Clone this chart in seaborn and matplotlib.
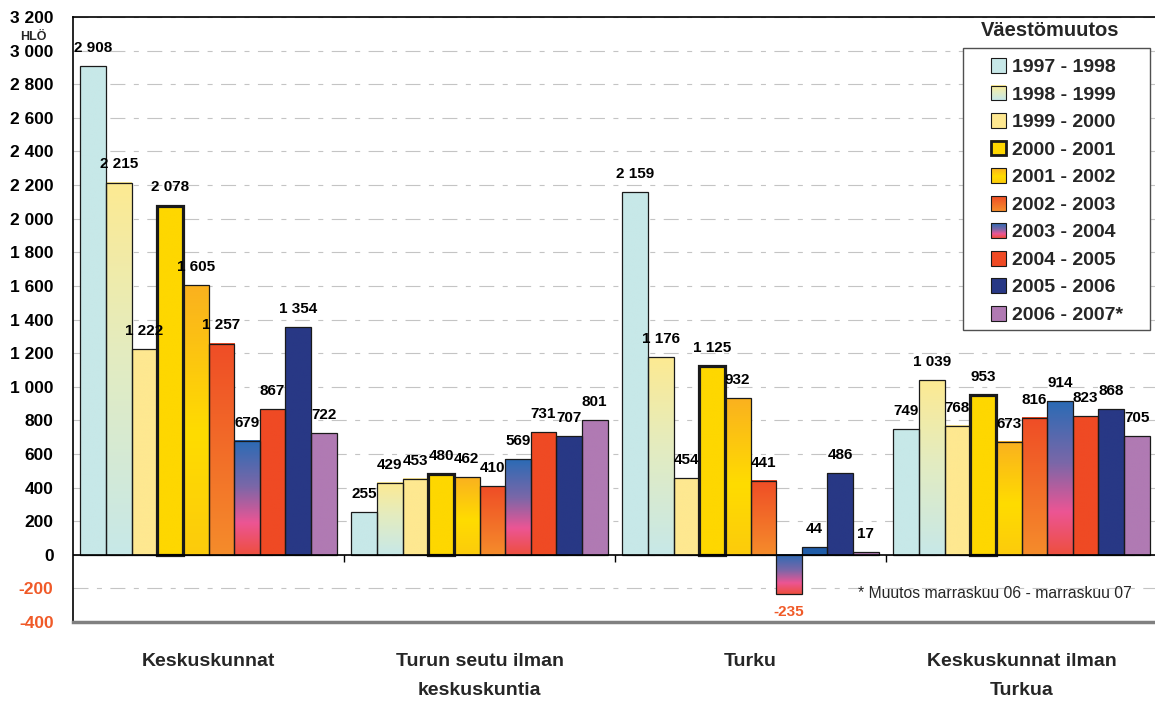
import numpy as np
import pandas as pd
import matplotlib
matplotlib.use("Agg")
import matplotlib.pyplot as plt
import seaborn as sns
from matplotlib.colors import LinearSegmentedColormap, Normalize
from matplotlib.patches import Rectangle
from matplotlib.legend_handler import HandlerBase
from matplotlib.image import BboxImage
from matplotlib.transforms import Bbox, TransformedBbox

# ---- data -------------------------------------------------------------
regions = ["Keskuskunnat", "Turun seutu ilman\nkeskuskuntia", "Turku",
           "Keskuskunnat ilman\nTurkua"]
periods = ["1997 - 1998", "1998 - 1999", "1999 - 2000", "2000 - 2001",
           "2001 - 2002", "2002 - 2003", "2003 - 2004", "2004 - 2005",
           "2005 - 2006", "2006 - 2007*"]

keskuskunnat = [2908, 2215, 1222, 2078, 1605, 1257, 679, 867, 1354, 722]
turun_seutu = [255, 429, 453, 480, 462, 410, 569, 731, 707, 801]
turku = [2159, 1176, 454, 1125, 932, 441, -235, 44, 486, 17]
keskuskunnat_ilman_turkua = [749, 1039, 768, 953, 673, 816, 914, 823, 868, 705]

y_ticks = list(range(-400, 3201, 200))

# fill of each period, colour stops from the top of a bar to its bottom
fills = [
    [(0.0, "#C7E8E8"), (1.0, "#C7E8E8")],
    [(0.0, "#FDEA92"), (0.45, "#E4ECBF"), (1.0, "#C7E8E8")],
    [(0.0, "#FEE890"), (1.0, "#FEE890")],
    [(0.0, "#FED700"), (1.0, "#FED700")],
    [(0.0, "#FAB11F"), (0.55, "#FFDC00"), (1.0, "#FCCB0C")],
    [(0.0, "#EF4D26"), (1.0, "#F58C2B")],
    [(0.0, "#2B6BB5"), (0.4, "#7A67A8"), (0.72, "#EC5594"), (1.0, "#EE4F3E")],
    [(0.0, "#EF4A24"), (1.0, "#EF4A24")],
    [(0.0, "#283885"), (1.0, "#283885")],
    [(0.0, "#B07AB3"), (1.0, "#B07AB3")],
]
edge_widths = [0.9, 0.9, 0.9, 2.3, 0.9, 0.9, 0.9, 0.9, 0.9, 0.9]
# single bars with their own solid fill
point_fills = {("Turku", "2004 - 2005"): "#1F5CA8"}

RED = "#F05A28"
EDGE = "#1A1A1A"

# ---- table ------------------------------------------------------------
series = [keskuskunnat, turun_seutu, turku, keskuskunnat_ilman_turkua]
df = pd.DataFrame(
    [(r, p, vals[i]) for r, vals in zip(regions, series) for i, p in enumerate(periods)],
    columns=["alue", "jakso", "muutos"],
)

sns.set_style("white")
plt.rcParams["font.family"] = ["Liberation Sans", "DejaVu Sans"]
plt.rcParams["font.weight"] = "bold"

cmaps = [LinearSegmentedColormap.from_list(f"fill{i}", stops) for i, stops in enumerate(fills)]
base_colors = [c(0.5) for c in cmaps]

fig = plt.figure(figsize=(11.55, 7.04), dpi=100)
ax = fig.add_axes([73 / 1155, 1 - 622 / 704, 1084 / 1155, 605 / 704])

sns.barplot(data=df, x="alue", y="muutos", hue="jakso", order=regions,
            hue_order=periods, palette=base_colors, saturation=1, width=0.945,
            errorbar=None, legend=False, edgecolor=EDGE, linewidth=0.9,
            zorder=3, ax=ax)

# gradient fills clipped to each bar, bar outlines on top
for k, (container, cmap) in enumerate(zip(ax.containers, cmaps)):
    for region, bar in zip(regions, container):
        bar.set_linewidth(edge_widths[k])
        x, w = bar.get_x(), bar.get_width()
        y, h = bar.get_y(), bar.get_height()
        y0, y1 = min(y, y + h), max(y, y + h)
        solid = point_fills.get((region, periods[k]))
        if solid is not None:
            bar.set_facecolor(solid)
            continue
        grad = np.linspace(0, 1, 256).reshape(-1, 1)
        ax.imshow(grad, cmap=cmap, norm=Normalize(0, 1), aspect="auto",
                  origin="upper", extent=(x, x + w, y0, y1),
                  interpolation="bilinear", zorder=2.5)
        bar.set_facecolor("none")
        if k == 3:
            bar.set_zorder(3.5)

# value labels
for k, container in enumerate(ax.containers):
    for bar, vals in zip(container, series):
        v = vals[k]
        cx = bar.get_x() + bar.get_width() / 2
        txt = f"{v:,}".replace(",", " ")
        neg = v < 0
        ax.annotate(txt, (cx, v), xytext=(0, -8 if neg else 8),
                    textcoords="offset points", ha="center",
                    va="top" if neg else "bottom", fontsize=11,
                    fontweight="bold", color=RED if neg else "black", zorder=5)

# axes styling
ax.set_xlim(-0.5, len(regions) - 0.5)
ax.set_ylim(min(y_ticks), max(y_ticks))
ax.set_yticks(y_ticks, labels=[f"{t:,}".replace(",", " ") for t in y_ticks],
              fontweight="bold")
for lbl, t in zip(ax.get_yticklabels(), y_ticks):
    lbl.set_color(RED if t < 0 else "black")
ax.set_xlabel("")
ax.set_ylabel("")
ax.tick_params(axis="y", direction="out", length=5, width=1, color="black",
               pad=9, labelsize=12.5)
ax.tick_params(axis="x", length=0, pad=22, labelsize=14)

ax.set_axisbelow(True)
ax.yaxis.grid(True, color="#C4C4C4", linewidth=0.8,
              linestyle=(0, (13.5, 7.6, 4.5, 7.6)))
ax.axhline(0, color="black", linewidth=1.2, zorder=4)
ax.vlines(np.arange(len(regions) - 1) + 0.5, -45, 0, color="black",
          linewidth=1.0, zorder=4)

ax.spines["left"].set_color("black")
ax.spines["left"].set_linewidth(1.2)
ax.spines["top"].set_color("black")
ax.spines["top"].set_linewidth(1.2)
ax.spines["bottom"].set_color("#808080")
ax.spines["bottom"].set_linewidth(2.5)
ax.spines["right"].set_visible(False)


# legend with gradient swatches
class GradientSwatch(HandlerBase):
    def __init__(self, cmap, lw):
        super().__init__()
        self.cmap = cmap
        self.lw = lw

    def create_artists(self, legend, orig_handle, xdescent, ydescent, width,
                       height, fontsize, trans):
        side = height
        x0 = -xdescent + (width - side) / 2
        y0 = -ydescent
        box = TransformedBbox(Bbox.from_bounds(x0, y0, side, side), trans)
        img = BboxImage(box, cmap=self.cmap, norm=Normalize(0, 1),
                        origin="upper", interpolation="bilinear")
        img.set_data(np.linspace(0, 1, 64).reshape(-1, 1))
        rect = Rectangle((x0, y0), side, side, facecolor="none",
                         edgecolor=EDGE, linewidth=self.lw, transform=trans)
        return [img, rect]


handles = [Rectangle((0, 0), 1, 1) for _ in periods]
hmap = {h: GradientSwatch(c, 2.0 if k == 3 else 0.8)
        for k, (h, c) in enumerate(zip(handles, cmaps))}
leg = fig.legend(handles, periods, handler_map=hmap, loc="upper left",
                 bbox_to_anchor=(991 / 1155, 1 - 58 / 704),
                 bbox_transform=fig.transFigure, frameon=False,
                 prop={"size": 14, "weight": "bold"},
                 handlelength=0.8, handleheight=0.8, handletextpad=0.28,
                 labelspacing=0.48, borderpad=0, borderaxespad=0)
fig.patches.append(Rectangle((963 / 1155, 1 - 330 / 704), 187 / 1155, 282 / 704,
                             transform=fig.transFigure, facecolor="white",
                             edgecolor="#505050", linewidth=1.0, zorder=0.5))

fig.text(1050 / 1155, 1 - 30 / 704, "Väestömuutos", ha="center", va="center",
         fontsize=14.5, fontweight="bold")
fig.text(33 / 1155, 1 - 37 / 704, "HLÖ", ha="center", va="center",
         fontsize=9, fontweight="bold")
fig.text(858 / 1155, 1 - 594 / 704, "* Muutos marraskuu 06 - marraskuu 07",
         ha="left", va="center", fontsize=11.3, fontweight="normal")

# category names, two-line ones with generous spacing
ax.set_xticks(range(len(regions)), labels=regions, fontweight="bold",
              linespacing=1.95)

fig.savefig("out.png", dpi=100)
